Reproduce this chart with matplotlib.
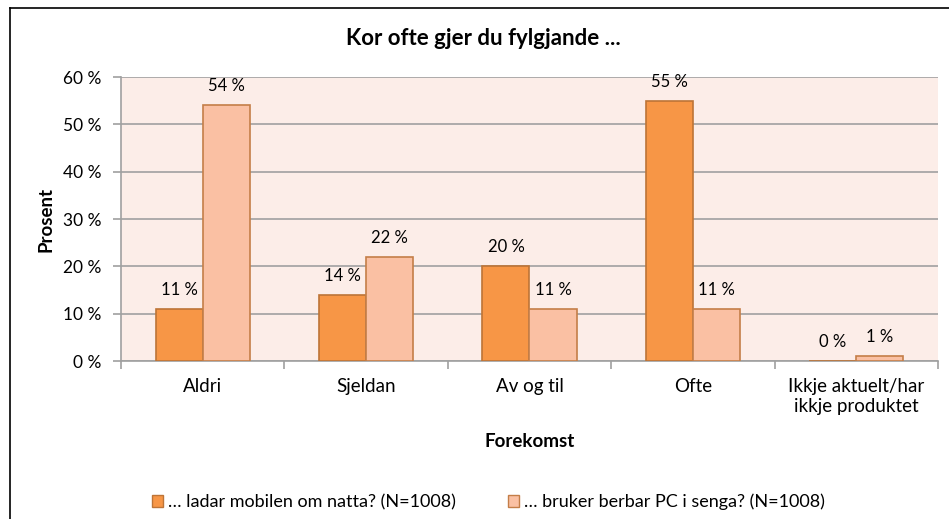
import numpy as np
import matplotlib
matplotlib.use('Agg')
import matplotlib.pyplot as plt
from matplotlib.lines import Line2D

plt.rcParams['font.family'] = ['Lato', 'DejaVu Sans']

categories = ['Aldri', 'Sjeldan', 'Av og til', 'Ofte', 'Ikkje aktuelt/har\nikkje produktet']
mobil = [11, 14, 20, 55, 0]
pc = [54, 22, 11, 11, 1]
series_names = ['… ladar mobilen om natta? (N=1008)', '… bruker berbar PC i senga? (N=1008)']
yticks = [0, 10, 20, 30, 40, 50, 60]

fig = plt.figure(figsize=(9.49, 5.19), dpi=100)
ax = fig.add_axes([0.1275, 0.3044, 0.8609, 0.5472])
ax.set_facecolor('#FCEDE8')

x = np.arange(len(categories))
w = 0.288
c1, e1 = '#F79646', '#BD7437'
c2, e2 = '#FAC0A3', '#C47E48'
grid = '#A0A0A0'
b1 = ax.bar(x - w / 2, mobil, w, color=c1, edgecolor=e1, linewidth=1.2, zorder=3)
b2 = ax.bar(x + w / 2, pc, w, color=c2, edgecolor=e2, linewidth=1.2, zorder=3)

for bars, vals in [(b1, mobil), (b2, pc)]:
    for b, v in zip(bars, vals):
        ax.text(b.get_x() + b.get_width() / 2, v + 4, f'{v} %', ha='center', va='center', fontsize=12)

ax.set_xlim(-0.5, len(categories) - 0.5)
ax.set_ylim(0, 60)
ax.set_yticks(yticks)
ax.set_yticklabels([f'{t} %' for t in yticks], fontsize=12.5)
ax.yaxis.grid(True, color=grid, linewidth=1.2, zorder=0)
ax.set_axisbelow(True)

ax.set_xticks(x)
ax.set_xticklabels(categories, fontsize=13.5, linespacing=1.2)
ax.tick_params(axis='x', length=0, pad=12.5)
ax.set_xticks(np.arange(-0.5, len(categories)), minor=True)
ax.tick_params(axis='x', which='minor', length=6, color=grid, width=1.2, direction='out')
ax.tick_params(axis='y', length=6, color=grid, width=1.2, direction='out', pad=8)

for s in ['top', 'right']:
    ax.spines[s].set_visible(False)
for s in ['left', 'bottom']:
    ax.spines[s].set_color(grid)
    ax.spines[s].set_linewidth(1.2)

ax.set_ylabel('Prosent', fontsize=13.5, fontweight='bold', va='center')
ax.yaxis.set_label_coords(-0.0918, 0.5)
ax.set_xlabel('Forekomst', fontsize=13.5, fontweight='bold', va='center')
ax.xaxis.set_label_coords(0.5, -0.285)
fig.text(0.5095, 0.9133, 'Kor ofte gjer du fylgjande ...', ha='center', va='baseline', fontsize=16, fontweight='bold')

handles = [plt.Rectangle((0, 0), 1, 1, facecolor=c1, edgecolor=e1),
           plt.Rectangle((0, 0), 1, 1, facecolor=c2, edgecolor=e2)]
fig.legend(handles, series_names, loc='center', bbox_to_anchor=(0.5147, 0.033), ncol=2, frameon=False,
           prop={'family': 'Lato', 'size': 13}, handlelength=0.6, handleheight=0.6,
           handletextpad=0.28, columnspacing=2.9, borderpad=0, borderaxespad=0)

# outer chart frame (left and top edges visible)
fig.add_artist(Line2D([0.0105, 0.0105], [0, 0.985], color='black', linewidth=1.2, transform=fig.transFigure))
fig.add_artist(Line2D([0.0105, 1.0], [0.985, 0.985], color='black', linewidth=1.2, transform=fig.transFigure))

fig.savefig('out.png', dpi=100)
